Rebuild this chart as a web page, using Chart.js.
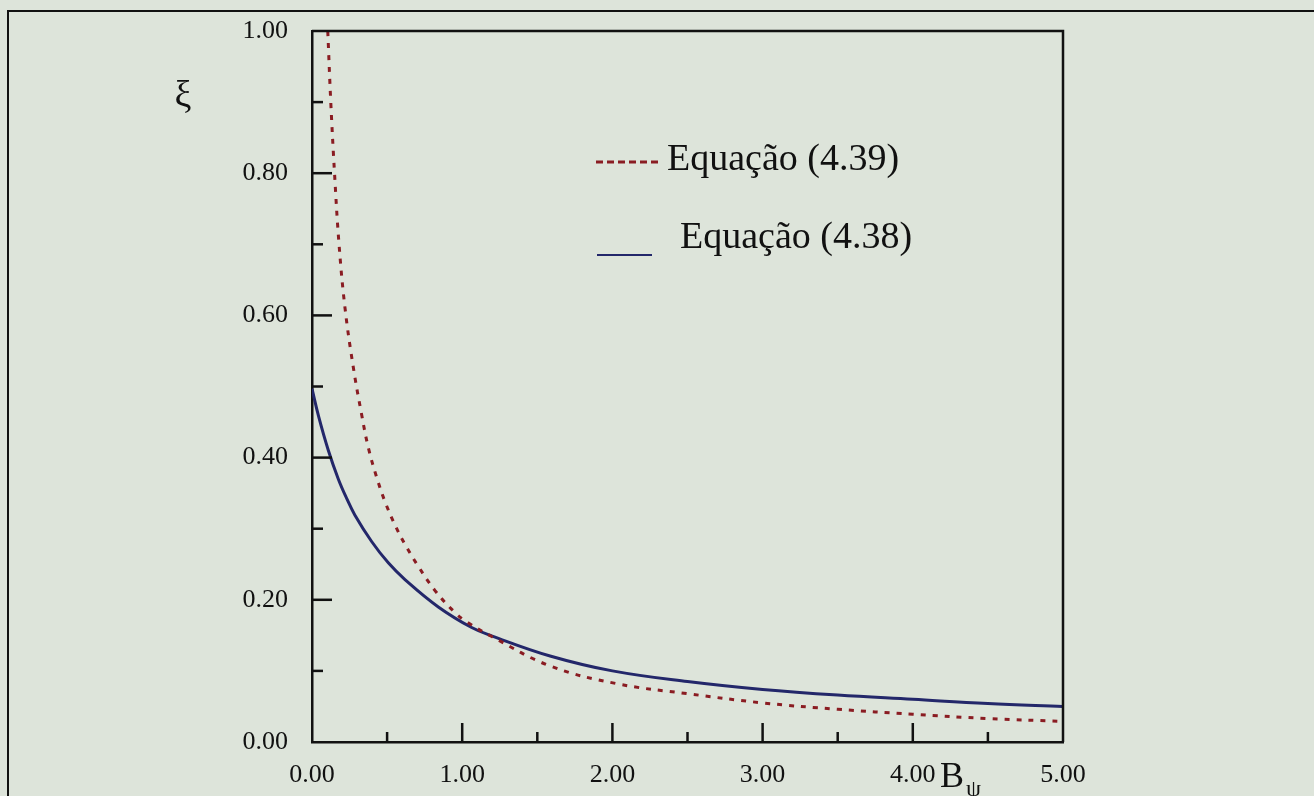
<!DOCTYPE html>
<html>
<head>
<meta charset="utf-8">
<script src="https://cdn.jsdelivr.net/npm/chart.js@4.4.1/dist/chart.umd.min.js"></script>
<style>
  html, body { margin: 0; padding: 0; background: #dde4da; }
  #wrap { width: 1314px; height: 796px; position: relative; }
</style>
</head>
<body>
<div id="wrap"><canvas id="chart" width="1314" height="796"></canvas></div>
<script>
// Equação (4.39) - curva pontilhada vermelha
const eq439X = [0.105, 0.125, 0.15, 0.18, 0.22, 0.275, 0.331, 0.375, 0.431, 0.486, 0.553, 0.619, 0.708, 0.819, 0.952, 1.03, 1.2, 1.585, 2.03, 2.5, 3.0, 3.5, 4.0, 4.5, 5.0];
const eq439Y = [1.00, 0.90, 0.80, 0.70, 0.61, 0.527, 0.46, 0.414, 0.372, 0.338, 0.305, 0.278, 0.247, 0.213, 0.182, 0.169, 0.148, 0.107, 0.082, 0.068, 0.055, 0.046, 0.039, 0.033, 0.029];

// Equação (4.38) - curva contínua azul
const eq438X = [0, 0.044, 0.109, 0.175, 0.23, 0.286, 0.397, 0.508, 0.619, 0.841, 1.063, 1.2, 1.585, 2.0, 2.5, 3.0, 3.5, 4.0, 4.5, 5.0];
const eq438Y = [0.497, 0.458, 0.41, 0.37, 0.343, 0.319, 0.282, 0.252, 0.2285, 0.19, 0.161, 0.149, 0.121, 0.10, 0.085, 0.074, 0.066, 0.060, 0.054, 0.050];

const xTicks = [0, 0.5, 1, 1.5, 2, 2.5, 3, 3.5, 4, 4.5, 5];
const yTicks = [0, 0.1, 0.2, 0.3, 0.4, 0.5, 0.6, 0.7, 0.8, 0.9, 1.0];

const serif = "'Liberation Serif', 'DejaVu Serif', serif";
const ink = '#111111';

const toPoints = (xs, ys) => xs.map((x, i) => ({ x: x, y: ys[i] }));

// fundo, moldura, ticks internos, legenda e rótulos dos eixos
const decor = {
    id: 'decor',
    beforeDraw(chart) {
        const ctx = chart.ctx;
        ctx.save();
        ctx.fillStyle = '#dde4da';
        ctx.fillRect(0, 0, chart.width, chart.height);
        ctx.strokeStyle = ink;
        ctx.lineWidth = 2;
        ctx.beginPath();
        ctx.moveTo(8, chart.height);
        ctx.lineTo(8, 11);
        ctx.lineTo(chart.width, 11);
        ctx.stroke();
        ctx.restore();
    },
    afterDraw(chart) {
        const ctx = chart.ctx;
        const { left, right, top, bottom } = chart.chartArea;
        const xs = chart.scales.x, ys = chart.scales.y;
        ctx.save();
        ctx.strokeStyle = ink;
        ctx.lineWidth = 2.5;
        ctx.beginPath();
        ctx.moveTo(left, top);
        ctx.lineTo(right, top);
        ctx.lineTo(right, bottom);
        ctx.stroke();

        xTicks.forEach(v => {
            const px = xs.getPixelForValue(v);
            const len = Number.isInteger(v) ? 19 : 10;
            if (v === 0 || v === 5) return;
            ctx.beginPath();
            ctx.moveTo(px, bottom);
            ctx.lineTo(px, bottom - len);
            ctx.stroke();
        });
        yTicks.forEach((v, i) => {
            const py = ys.getPixelForValue(v);
            const len = i % 2 === 0 ? 20 : 11;
            if (i === 0 || i === yTicks.length - 1) return;
            ctx.beginPath();
            ctx.moveTo(left, py);
            ctx.lineTo(left + len, py);
            ctx.stroke();
        });

        // rótulos dos eixos
        ctx.fillStyle = ink;
        ctx.font = '38px ' + serif;
        ctx.textAlign = 'center';
        ctx.textBaseline = 'middle';
        ctx.fillText('ξ', 183, 97);
        ctx.textAlign = 'left';
        ctx.textBaseline = 'alphabetic';
        ctx.font = '36px ' + serif;
        ctx.fillText('B', 940, 787);
        ctx.font = '24px ' + serif;
        ctx.fillText('ψ', 966, 796);

        // legenda
        const rows = [
            { ds: chart.data.datasets[0], y: 162, x0: 596, x1: 658, tx: 667, ty: 170 },
            { ds: chart.data.datasets[1], y: 255, x0: 597, x1: 652, tx: 680, ty: 248 }
        ];
        rows.forEach((r, k) => {
            ctx.strokeStyle = r.ds.borderColor;
            ctx.lineWidth = k === 0 ? 3 : 2;
            ctx.setLineDash(k === 0 ? [7, 4] : []);
            ctx.beginPath();
            ctx.moveTo(r.x0, r.y);
            ctx.lineTo(r.x1, r.y);
            ctx.stroke();
            ctx.setLineDash([]);
            ctx.font = '38px ' + serif;
            ctx.fillStyle = ink;
            ctx.fillText(r.ds.label, r.tx, r.ty);
        });
        ctx.restore();
    }
};

new Chart(document.getElementById('chart'), {
    type: 'line',
    data: {
        datasets: [{
            label: 'Equação (4.39)',
            data: toPoints(eq439X, eq439Y),
            borderColor: '#8a1c22',
            borderWidth: 3,
            borderDash: [5, 7],
            pointRadius: 0,
            tension: 0.4,
            fill: false
        }, {
            label: 'Equação (4.38)',
            data: toPoints(eq438X, eq438Y),
            borderColor: '#23276a',
            borderWidth: 3,
            pointRadius: 0,
            tension: 0.4,
            fill: false
        }]
    },
    options: {
        responsive: false,
        animation: false,
        layout: { padding: { left: 0, top: 31, right: 251, bottom: 0 } },
        scales: {
            x: {
                type: 'linear',
                min: 0,
                max: 5,
                afterFit: s => { s.height = 54; },
                grid: { display: false },
                border: { display: true, color: ink, width: 2.5 },
                ticks: {
                    stepSize: 1,
                    padding: 10,
                    color: ink,
                    font: { family: serif, size: 26 },
                    callback: v => v.toFixed(2),
                    maxRotation: 0
                }
            },
            y: {
                min: 0,
                max: 1,
                afterFit: s => { s.width = 312; s.paddingTop = 0; s.paddingBottom = 0; },
                grid: { display: false },
                border: { display: true, color: ink, width: 2.5 },
                ticks: {
                    stepSize: 0.2,
                    padding: 16,
                    color: ink,
                    font: { family: serif, size: 26 },
                    callback: v => v.toFixed(2)
                }
            }
        },
        plugins: {
            legend: { display: false },
            tooltip: { enabled: false }
        }
    },
    plugins: [decor]
});
</script>
</body>
</html>
